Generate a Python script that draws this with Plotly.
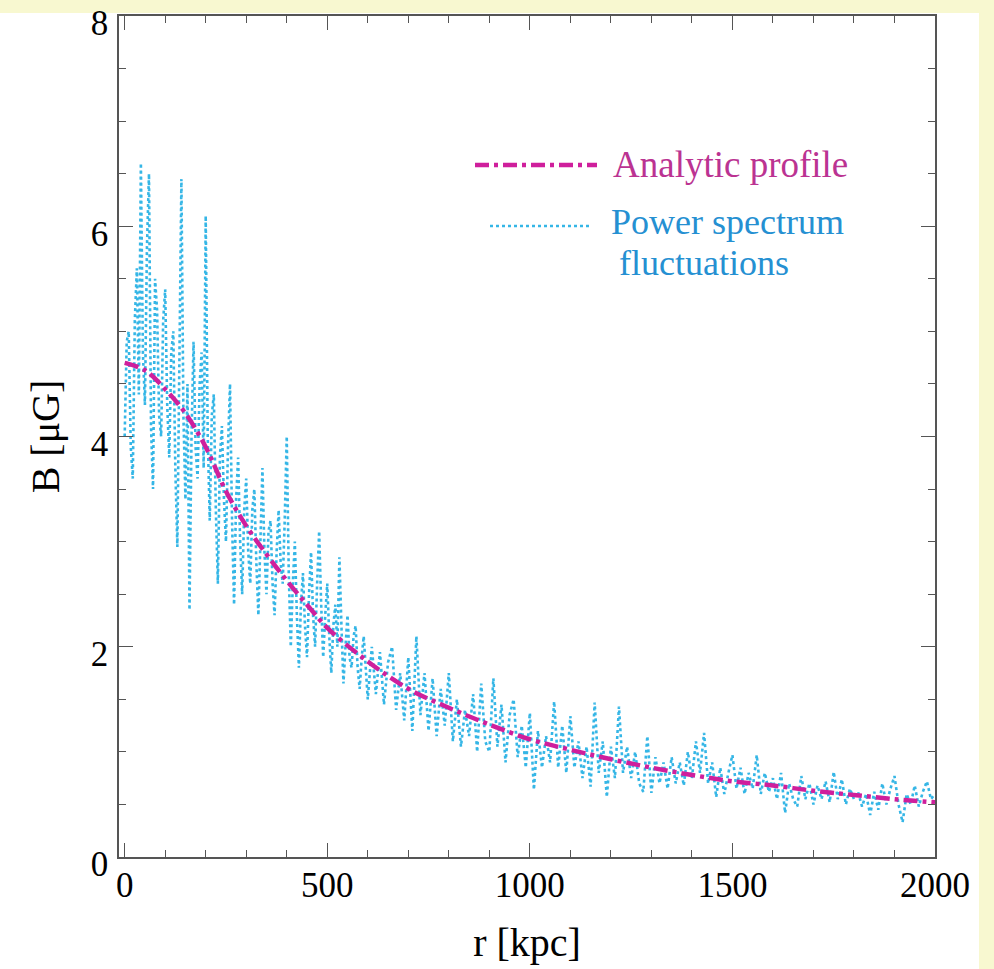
import plotly.graph_objects as go

# Analytic profile, r in kpc, B in microGauss
r_analytic = [0, 50, 100, 150, 200, 250, 300, 350, 400, 450, 500, 600, 700, 800, 900,
              1000, 1100, 1200, 1300, 1400, 1500, 1600, 1700, 1800, 1900, 2000]
b_analytic = [4.70, 4.63, 4.45, 4.22, 3.90, 3.48, 3.15, 2.88, 2.63, 2.40, 2.18, 1.86, 1.60,
              1.42, 1.26, 1.12, 1.02, 0.93, 0.85, 0.78, 0.72, 0.68, 0.63, 0.59, 0.55, 0.52]

# Power-spectrum fluctuations: every 5 kpc up to 595, then every 10 kpc up to 2000
r_fluct = list(range(0, 600, 5)) + list(range(600, 2001, 10))
b_fluct = [
    # 0 - 95
    4.0, 4.9, 5.0, 3.9, 3.6, 5.1, 5.6, 4.4, 6.6, 4.8, 4.3, 5.8, 6.5, 4.1, 3.5, 5.5, 5.2, 4.2, 4.0, 5.1,
    # 100 - 195
    5.4, 4.3, 3.8, 4.8, 5.0, 3.7, 2.95, 4.6, 6.45, 4.2, 3.4, 4.5, 2.35, 4.0, 4.9, 3.9, 3.6, 4.5, 4.8, 3.7,
    # 200 - 295
    6.1, 4.0, 3.2, 4.2, 4.4, 3.3, 2.6, 3.8, 4.1, 3.4, 3.0, 3.9, 4.5, 3.2, 2.4, 3.4, 3.8, 3.0, 2.5, 3.3,
    # 300 - 395
    3.6, 2.9, 2.6, 3.3, 3.5, 2.8, 2.3, 3.0, 3.7, 2.9, 2.5, 3.1, 3.2, 2.6, 2.3, 2.9, 3.3, 2.8, 2.6, 3.2,
    # 400 - 495
    4.0, 2.7, 2.0, 2.6, 3.0, 2.3, 1.8, 2.4, 2.7, 2.2, 1.9, 2.5, 2.9, 2.3, 2.0, 2.6, 3.1, 2.4, 1.9, 2.3,
    # 500 - 595
    2.6, 2.1, 1.75, 2.2, 2.4, 2.0, 2.85, 2.2, 1.65, 2.0, 2.3, 1.9, 1.8, 2.1, 2.2, 1.8, 1.6, 1.9, 2.1, 1.8,
    # 600 - 2000
    1.5, 2.0, 1.55, 1.95, 1.45, 1.85, 2.0, 1.4, 1.75, 1.3,
    1.9, 1.2, 2.1, 1.35, 1.75, 1.2, 1.7, 1.15, 1.6, 1.25,
    1.75, 1.1, 1.5, 1.05, 1.4, 1.15, 1.55, 1.0, 1.65, 1.1,
    1.0, 1.7, 1.05, 1.45, 0.9, 1.35, 1.5, 0.95, 1.25, 0.85,
    1.37, 0.64, 1.2, 0.85, 1.15, 0.9, 1.48, 0.85, 1.25, 0.8,
    1.34, 0.85, 1.1, 0.75, 1.05, 0.67, 1.47, 0.8, 1.1, 0.57,
    1.05, 0.75, 1.43, 0.8, 1.05, 0.75, 1.0, 0.7, 0.62, 1.15,
    0.61, 0.95, 0.7, 0.9, 0.65, 0.95, 0.7, 0.9, 0.68, 1.0,
    0.75, 1.1, 0.8, 1.18, 0.7, 0.9, 0.57, 0.85, 0.6, 0.8,
    0.97, 0.65, 0.85, 0.6, 0.8, 0.65, 0.97, 0.6, 0.8, 0.62,
    0.75, 0.55, 0.8, 0.42, 0.7, 0.55, 0.48, 0.77, 0.55, 0.7,
    0.5, 0.68, 0.55, 0.72, 0.52, 0.81, 0.55, 0.74, 0.5, 0.65,
    0.55, 0.62, 0.48, 0.6, 0.4, 0.62, 0.45, 0.7, 0.5, 0.65,
    0.77, 0.5, 0.33, 0.6, 0.5, 0.68, 0.48, 0.62, 0.72, 0.55,
    0.6,
]

x_ticks = [0, 500, 1000, 1500, 2000]
y_ticks = [0, 2, 4, 6, 8]

MAGENTA = "#cf1f9c"
MAGENTA_TXT = "#bb3392"
CYAN = "#35b6e6"
CYAN_TXT = "#2590d2"
YELLOW = "#f8f8d0"
FONT = "Liberation Serif"

fig = go.Figure()
fig.add_trace(go.Scatter(x=r_fluct, y=b_fluct, mode="lines",
                         line=dict(color=CYAN, width=2.6, dash="dot"),
                         showlegend=False))
fig.add_trace(go.Scatter(x=r_analytic, y=b_analytic, mode="lines", line_shape="spline",
                         line=dict(color=MAGENTA, width=4.5, dash="14px,5px,4px,5px"),
                         showlegend=False))

L, R, T, B = 119, 59, 16, 112
W, H = 994, 969
pw, ph = W - L - R, H - T - B

def px(xp):
    return (xp - L) / pw

def py(yp):
    return (H - B - yp) / ph

shapes = [
    # yellow page bands (top and right)
    dict(type="rect", xref="paper", yref="paper", x0=px(0), x1=px(W), y0=py(13), y1=py(0),
         fillcolor=YELLOW, line_width=0, layer="below"),
    dict(type="rect", xref="paper", yref="paper", x0=px(979), x1=px(W), y0=py(H), y1=py(0),
         fillcolor=YELLOW, line_width=0, layer="below"),
    # legend samples
    dict(type="line", xref="paper", yref="paper", x0=px(475), x1=px(597), y0=py(165), y1=py(165),
         line=dict(color=MAGENTA, width=4.5, dash="14px,5px,4px,5px")),
    dict(type="line", xref="paper", yref="paper", x0=px(490), x1=px(592), y0=py(226), y1=py(226),
         line=dict(color=CYAN, width=2.6, dash="dot")),
]

annotations = [
    dict(xref="paper", yref="paper", x=px(611), y=py(165), xanchor="left", yanchor="middle",
         text="Analytic profile", showarrow=False, font=dict(family=FONT, size=37, color=MAGENTA_TXT)),
    dict(xref="paper", yref="paper", x=px(609), y=py(222), xanchor="left", yanchor="middle",
         text="Power spectrum", showarrow=False,
         font=dict(family=FONT, size=36, color=CYAN_TXT)),
    dict(xref="paper", yref="paper", x=px(617), y=py(263), xanchor="left", yanchor="middle",
         text="fluctuations", showarrow=False,
         font=dict(family=FONT, size=36, color=CYAN_TXT)),
]

axis_common = dict(
    showgrid=False, zeroline=False, showline=True, linecolor="#555555", linewidth=1.5,
    mirror="ticks", ticks="inside", ticklen=14, tickwidth=1.2, tickcolor="#555555",
    tickfont=dict(family=FONT, size=35, color="black"), ticklabeloverflow="allow",
    automargin=False,
)

fig.update_layout(
    width=W, height=H,
    margin=dict(l=L, r=R, t=T, b=B),
    paper_bgcolor="white", plot_bgcolor="white",
    xaxis=dict(range=[-14, 2000], tickvals=x_ticks, ticktext=[str(v) for v in x_ticks],
               minor=dict(ticks="inside", ticklen=7, dtick=100, tickcolor="#555555", tickwidth=1),
               title=dict(text="r [kpc]", font=dict(family=FONT, size=40, color="black"), standoff=24),
               ticklabelstandoff=-4, **axis_common),
    yaxis=dict(range=[0, 8], tickvals=y_ticks, ticktext=[str(v) for v in y_ticks],
               minor=dict(ticks="inside", ticklen=7, dtick=0.5, tickcolor="#555555", tickwidth=1),
               title=dict(text="B [μG]", font=dict(family=FONT, size=40, color="black"), standoff=19),
               ticklabelstandoff=2, ticklabelshift=7, **axis_common),
    shapes=shapes,
    annotations=annotations,
)

fig.write_html("out.html", config={"displayModeBar": False},
               post_script="document.body.style.margin='0';document.body.style.overflow='hidden';")
